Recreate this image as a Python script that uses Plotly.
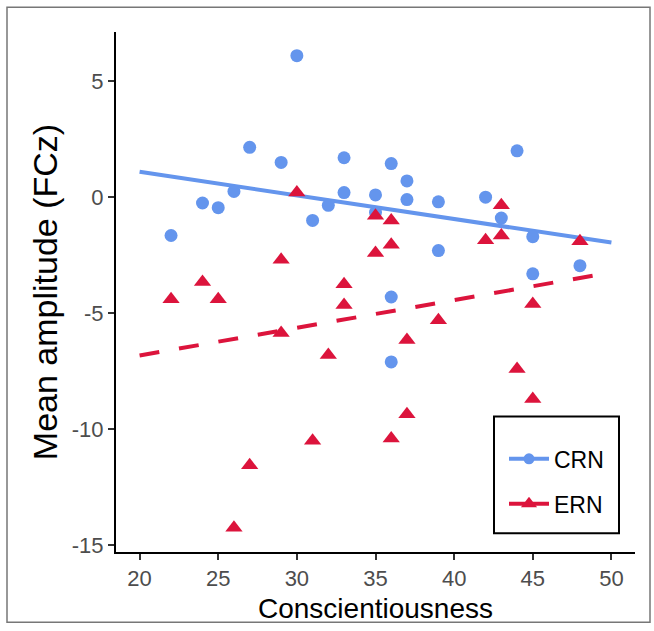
import numpy as np
import plotly.graph_objects as go

# ---- data ----
crn_x = [22, 24, 25, 26, 27, 29, 30, 31, 32, 33, 33, 35, 35, 36, 36, 36, 37, 37, 39, 39, 42, 43, 44, 45, 45, 48]
crn_y = [-1.65, -0.25, -0.45, 0.25, 2.15, 1.5, 6.1, -1.0, -0.35, 1.7, 0.2, 0.1, -0.65, 1.45, -4.3, -7.1,
         0.7, -0.1, -0.2, -2.3, 0.0, -0.9, 2.0, -1.7, -3.3, -2.95]

ern_x = [22, 24, 25, 26, 27, 29, 29, 30, 31, 32, 33, 33, 35, 35, 36, 36, 36, 37, 37, 39, 42, 43, 43, 44, 45, 45, 48]
ern_y = [-4.4, -3.65, -4.4, -14.25, -11.55, -2.7, -5.85, 0.2, -10.5, -6.8, -3.75, -4.65, -0.8, -2.4, -1.0, -2.05,
         -10.4, -6.15, -9.35, -5.3, -1.85, -0.35, -1.65, -7.4, -4.6, -8.7, -1.9]

fit_range = [20, 50]
x_ticks = [20, 25, 30, 35, 40, 45, 50]
y_ticks = [-15, -10, -5, 0, 5]

CRN_COLOR = "#6495ED"
ERN_COLOR = "#DC143C"
FONT = "Liberation Sans, Arial, sans-serif"

def fit_line(xs, ys):
    b, a = np.polyfit(np.array(xs, float), np.array(ys, float), 1)
    fx = np.array(fit_range, float)
    return fx, a + b * fx

fig = go.Figure()

cx, cy = fit_line(crn_x, crn_y)
ex, ey = fit_line(ern_x, ern_y)

fig.add_trace(go.Scatter(x=cx, y=cy, mode="lines", line=dict(color=CRN_COLOR, width=4),
                         showlegend=False, hoverinfo="skip"))
fig.add_trace(go.Scatter(x=ex, y=ey, mode="lines", line=dict(color=ERN_COLOR, width=4, dash="20px,20px"),
                         showlegend=False, hoverinfo="skip"))

fig.add_trace(go.Scatter(x=crn_x, y=crn_y, mode="markers", name="CRN",
                         marker=dict(color=CRN_COLOR, size=13, symbol="circle"), showlegend=False))
fig.add_trace(go.Scatter(x=ern_x, y=ern_y, mode="markers", name="ERN",
                         marker=dict(color=ERN_COLOR, size=15, symbol="triangle-up"), showlegend=False))

# legend entries
fig.add_trace(go.Scatter(x=[None], y=[None], mode="lines+markers", name="CRN", legendgroup="a",
                         line=dict(color=CRN_COLOR, width=4),
                         marker=dict(color=CRN_COLOR, size=11, symbol="circle")))
fig.add_trace(go.Scatter(x=[None], y=[None], mode="lines+markers", name="ERN", legendgroup="b",
                         line=dict(color=ERN_COLOR, width=4),
                         marker=dict(color=ERN_COLOR, size=14, symbol="triangle-up")))

L, R, T, B = 116, 19, 32, 73
W, H = 654, 631
pw, ph = W - L - R, H - T - B

def px(xp):
    return (xp - L) / pw

def py(yp):
    return (H - B - yp) / ph

# outer frame
fig.add_shape(type="rect", xref="paper", yref="paper",
              x0=px(7), x1=px(650), y0=py(629), y1=py(7),
              line=dict(color="#777777", width=1.5), layer="below")
# legend box
fig.add_shape(type="rect", xref="paper", yref="paper",
              x0=px(494), x1=px(619), y0=py(539), y1=py(421),
              line=dict(color="black", width=2), fillcolor="white", layer="above")

axis_common = dict(showgrid=False, zeroline=False, showline=True, linecolor="black", linewidth=2,
                   ticks="outside", ticklen=6, tickwidth=1.5, tickcolor="#333333",
                   tickfont=dict(family=FONT, size=22, color="#4D4D4D"))

fig.update_xaxes(range=[18.5, 51.5], tickvals=x_ticks, ticktext=[str(v) for v in x_ticks],
                 title=dict(text="Conscientiousness", font=dict(family=FONT, size=28, color="black"),
                            standoff=8),
                 **axis_common)
fig.update_yaxes(range=[-15.29, 7.12], tickvals=y_ticks, ticktext=[str(v) for v in y_ticks],
                 title=dict(text="Mean amplitude (FCz)", font=dict(family=FONT, size=34, color="black"),
                            standoff=4),
                 **axis_common)

fig.update_layout(
    width=W, height=H,
    margin=dict(l=L, r=R, t=T, b=B),
    plot_bgcolor="white", paper_bgcolor="white",
    legend=dict(x=px(504), y=py(442), xanchor="left", yanchor="top",
                borderwidth=0, bgcolor="rgba(0,0,0,0)",
                font=dict(family=FONT, size=23, color="black"),
                tracegroupgap=12, itemwidth=40),
    showlegend=True,
)

fig.write_html("out.html", config={"displayModeBar": False},
               post_script="document.body.style.margin='0px';")
